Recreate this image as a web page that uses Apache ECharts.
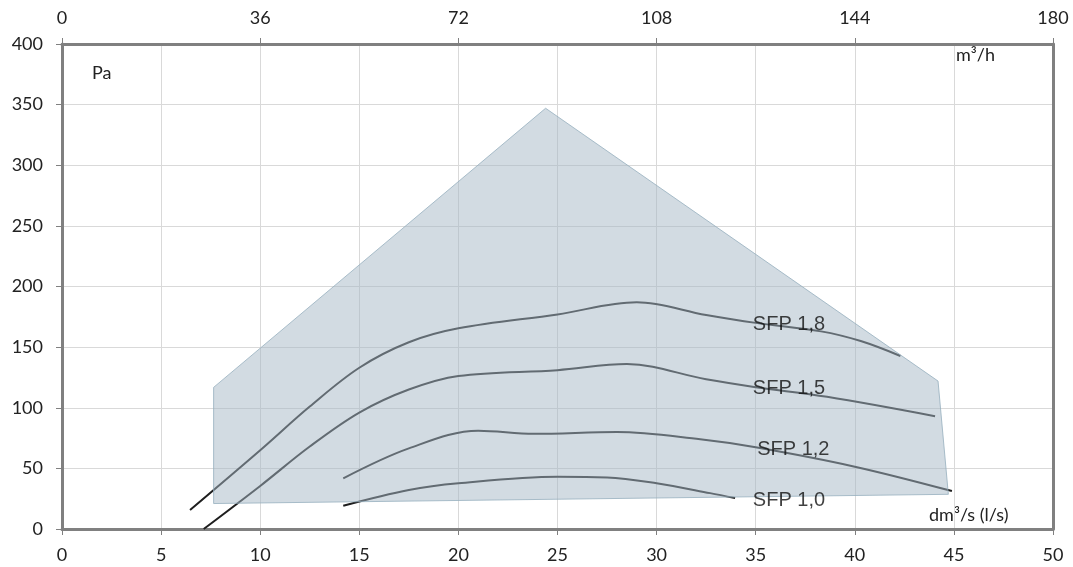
<!DOCTYPE html>
<html><head><meta charset="utf-8">
<script src="https://cdn.jsdelivr.net/npm/echarts@6/dist/echarts.min.js"></script>
<style>html,body{margin:0;padding:0;background:#fff}#c{width:1073px;height:567px}</style>
</head><body><div id="c"></div>
<script>
// ---- data ----
const xTicksBottom = [0,5,10,15,20,25,30,35,40,45,50];
const xTicksTop = [0,36,72,108,144,180];
const yTicks = [0,50,100,150,200,250,300,350,400];
const envelope = [[7.65,116.8],[24.4,347],[44.2,122],[44.72,28.6],[7.65,21]];
const sfp18 = [[6.46,15.7],[10,65],[12.5,101],[15,133],[17.5,154],[20,165.5],[25,177],[29,187],[32.5,176.5],[35,170],[38.3,163],[40.3,155],[42.3,142.7]];
const sfp15 = [[7.15,0],[10,35.5],[12.5,68],[15,96],[17.5,115],[20,126.2],[25,131],[28.5,136],[32.5,123.5],[35,117],[38.6,109],[44.05,93]];
const sfp12 = [[14.19,41.8],[17.5,66.5],[21,81],[23.8,78.5],[28,80],[32.2,74],[35,67.4],[40,51.4],[44.9,31.3]];
const sfp10 = [[14.19,19.2],[17.5,32.2],[20,37.7],[25,43],[27.5,42.5],[30,37.7],[32.7,29.6],[33.96,25.5]];
const curveNames = ['SFP 1,8','SFP 1,5','SFP 1,2','SFP 1,0'];
const labelAnchors = [[36.68,169],[36.68,116.3],[36.9,65.2],[36.68,23.3]];

const FONT = 'Lato';
const chart = echarts.init(document.getElementById('c'), null, {renderer:'canvas'});
const axisLine = {show:true, onZero:false, lineStyle:{color:'#808080', width:3}};
const axisTick = {show:true, length:6, lineStyle:{color:'#808080', width:1}};
const curves = [sfp18, sfp15, sfp12, sfp10];
const series = curves.map((d,i)=>({
  type:'line', data:d, smooth:0.35, showSymbol:false, symbol:'none', z:2,
  lineStyle:{color:'#1e1e1e', width:2}, silent:true
}));
series.push({
  type:'custom', z:5, silent:true, data:[0],
  renderItem:function(params, api){
    const pts = envelope.map(p=>api.coord(p));
    return {type:'polygon', shape:{points:pts},
      style:{fill:'rgba(166,184,197,0.5)', stroke:'rgba(150,175,190,0.8)', lineWidth:1}};
  }
});
series.push({
  type:'scatter', z:10, silent:true, symbolSize:0,
  data: labelAnchors.map((p,i)=>({value:p, name:curveNames[i]})),
  label:{show:true, position:'inside', formatter:p=>p.name, color:'#111',
    fontFamily:'Liberation Sans', fontSize:20}
});
const lbl = {color:'#222', fontSize:18, fontFamily:FONT};
chart.setOption({
  animation:false,
  backgroundColor:'#fff',
  grid:{left:62, right:20, top:44, bottom:38, show:false},
  xAxis:[
    {type:'value', position:'bottom', min:0, max:50, interval:5,
     axisLine, axisTick,
     axisLabel:Object.assign({margin:17}, lbl),
     splitLine:{show:true, lineStyle:{color:'#d9d9d9', width:1}}},
    {type:'value', position:'top', min:0, max:180, interval:36,
     axisLine, axisTick,
     axisLabel:Object.assign({margin:17}, lbl),
     splitLine:{show:false}}
  ],
  yAxis:[
    {type:'value', position:'left', min:0, max:400, interval:50,
     axisLine, axisTick,
     axisLabel:Object.assign({margin:19}, lbl),
     splitLine:{show:true, lineStyle:{color:'#d9d9d9', width:1}}},
    {type:'value', position:'right', min:0, max:400, interval:50,
     axisLine, axisTick:{show:false}, axisLabel:{show:false}, splitLine:{show:false}}
  ],
  graphic:[
    {type:'text', left:92, top:64, style:{text:'Pa', fontSize:18, fontFamily:FONT, fill:'#222'}},
    {type:'text', left:956, top:46, style:{text:'m³/h', fontSize:18, fontFamily:FONT, fill:'#222'}},
    {type:'text', left:929, top:506, style:{text:'dm³/s (l/s)', fontSize:18, fontFamily:FONT, fill:'#222'}}
  ],
  series
});
</script></body></html>
